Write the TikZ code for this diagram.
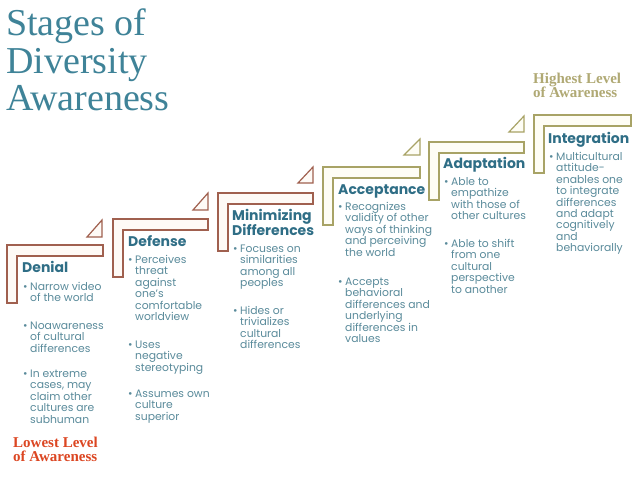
\documentclass[tikz,border=0pt]{standalone}
\usepackage{fontspec}
\setmainfont{Poppins}
\newfontfamily\titlefont{Liberation Serif}
\definecolor{titlecol}{HTML}{3F8398}
\definecolor{headcol}{HTML}{2F6E86}
\definecolor{bodycol}{HTML}{5A8B9B}
\definecolor{brownline}{HTML}{A0604F}
\definecolor{brownfill}{HTML}{FEFAF6}
\definecolor{oliveline}{HTML}{A8A366}
\definecolor{olivefill}{HTML}{FEFDF5}
\definecolor{lowcol}{HTML}{DC4622}
\definecolor{highcol}{HTML}{B0A974}
\tikzset{
  brk/.style={line width=1.2pt, line join=miter},
  brownbrk/.style={brk, draw=brownline, fill=brownfill},
  olivebrk/.style={brk, draw=oliveline, fill=olivefill},
  head/.style={font=\fontsize{14}{16}\selectfont\bfseries, text=headcol, anchor=base west, inner sep=0pt},
  body/.style={font=\fontsize{10.8}{11.4}\selectfont, text=bodycol, anchor=base west, inner sep=0pt},
  ttl/.style={font=\titlefont\fontsize{38}{38}\selectfont, text=titlecol, anchor=base west, inner sep=0pt},
  lvl/.style={font=\titlefont\bfseries\fontsize{15}{15}\selectfont, anchor=base west, inner sep=0pt},
}
\newcommand\stagebracket[4]{% style, L, T, R ; B = T+58
  \draw[#1] (#2,#3) -- (#4,#3) -- (#4,#3+11) -- (#2+10,#3+11) -- (#2+10,#3+58) -- (#2,#3+58) -- cycle;}
\newcommand\stagetri[5]{% style, left, bottom, right, top
  \draw[#1] (#2,#3) -- (#4,#3) -- (#4,#5) -- cycle;}
\newcommand\plines[4]{% name, x, baseline, lines
  \node[body] (#1-b) at (#2-7,#3) {•};
  \foreach \t [count=\i] in {#4}
    \node[body] (#1-\i) at (#2,{#3+(\i-1)*11.4}) {\t};}
\begin{document}
\begin{tikzpicture}[x=1pt,y=-1pt]
\useasboundingbox[fill=white] (0,0) rectangle (638,479);

% title
\node[ttl] (t1) at (6,35) {Stages of};
\node[ttl] (t2) at (6,73) {Diversity};
\node[ttl] (t3) at (6,110) {Awareness};

% brackets
\stagebracket{brownbrk}{7}{245}{103}
\stagebracket{brownbrk}{113}{219}{208}
\stagebracket{brownbrk}{218}{193}{313}
\stagebracket{olivebrk}{323}{167}{420}
\stagebracket{olivebrk}{429}{142}{524}
\stagebracket{olivebrk}{534}{115}{631}

% triangles
\stagetri{brownbrk}{87}{237}{102}{220}
\stagetri{brownbrk}{193}{210}{208}{193}
\stagetri{brownbrk}{298}{183}{313}{167}
\stagetri{olivebrk}{404}{155}{420}{139}
\stagetri{olivebrk}{509}{132}{524}{116}

% headers
\node[head] (h1) at (22,272) {Denial};
\node[head] (h2) at (128,246) {Defense};
\node[head] (h3a) at (232,220) {Minimizing};
\node[head] (h3b) at (232,235) {Differences};
\node[head] (h4) at (338,194) {Acceptance};
\node[head] (h5) at (443,168) {Adaptation};
\node[head] (h6) at (548,143) {Integration};

% Denial
\plines{d1}{30}{290.5}{Narrow video,of the world}
\plines{d2}{30}{329.5}{Noawareness,of cultural,differences}
\plines{d3}{30}{377.5}{In extreme,{cases, may},claim other,cultures are,subhuman}
% Defense
\plines{e1}{135}{263.5}{Perceives,threat,against,one’s,comfortable,worldview}
\plines{e2}{135}{348.5}{Uses,negative,stereotyping}
\plines{e3}{135}{397.5}{Assumes own,culture,superior}
% Minimizing
\plines{m1}{240}{252.5}{Focuses on,similarities,among all,peoples}
\plines{m2}{240}{314.5}{Hides or,trivializes,cultural,differences}
% Acceptance
\plines{a1}{345}{210.5}{Recognizes,validity of other,ways of thinking,and perceiving,the world}
\plines{a2}{345}{285.5}{Accepts,behavioral,differences and,underlying,differences in,values}
% Adaptation
\plines{p1}{451}{185.5}{Able to,empathize,with those of,other cultures}
\plines{p2}{451}{247.5}{Able to shift,from one,cultural,perspective,to another}
% Integration
\plines{i1}{556}{160.5}{Multicultural,attitude-,enables one,to integrate,differences,and adapt,cognitively,and,behaviorally}

% level labels
\node[lvl, text=lowcol] (l1) at (13,447) {Lowest Level};
\node[lvl, text=lowcol] (l2) at (13,461) {of Awareness};
\node[lvl, text=highcol] (hl1) at (533,83) {Highest Level};
\node[lvl, text=highcol] (hl2) at (533,97) {of Awareness};
\end{tikzpicture}
\end{document}
